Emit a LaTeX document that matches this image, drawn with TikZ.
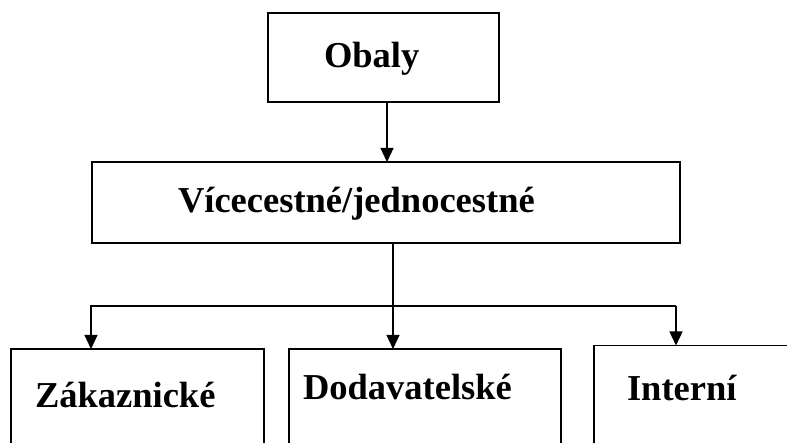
\documentclass[tikz,border=0pt]{standalone}
\usepackage{fontspec}
\setmainfont{Liberation Serif}
\usepackage{tikz}
\usetikzlibrary{
  positioning,
  calc,
  arrows.meta
}
\tikzstyle{box}=[draw, line width=1.8pt, outer sep=0pt, inner ysep=0pt, align=left, font=\bfseries\fontsize{36.5}{44}\selectfont]
\tikzstyle{arrow}=[-{Triangle[width=13pt,length=14pt]}, line width=1.2pt]

\begin{document}
\begin{tikzpicture}[x=1pt, y=1pt]
    % 描画範囲
    \useasboundingbox (0,0) rectangle (787,443);
    \clip (0,0) rectangle (787,443);

    % 最上段の箱
    \node[box, anchor=base west, inner xsep=56pt, text width=119pt, text height=55pt, text depth=34pt] (obaly) at (268,375) {Obaly};
    % 中段の箱
    \node[box, anchor=base west, inner xsep=86pt, text width=416pt, text height=51pt, text depth=30pt] (vice) at (92,230) {Vícecestné/jednocestné};

    % 下段の箱
    \node[box, anchor=base west, inner xsep=24pt, text width=205pt, text height=59pt, text depth=55pt] (zak) at (11,35) {Zákaznické};
    \node[box, anchor=base west, inner xsep=14pt, text width=244pt, text height=51pt, text depth=63pt] (dod) at (289,43) {Dodavatelské};
    \node[box, anchor=base west, inner xsep=33pt, text width=150pt, text height=55pt, text depth=62pt] (intr) at (594,42.5) {Interní};

    % 分岐線の端点
    \coordinate (bl) at (91,137);
    \coordinate (br) at (676,137);

    % 矢印の描画
    \draw[arrow] ([xshift=3.5pt]obaly.south) -- ([xshift=3.5pt]obaly.south |- vice.north);
    \draw[arrow] ([xshift=7pt]vice.south) -- ([xshift=7pt]vice.south |- dod.north);
    \draw[arrow] (br) -- (bl) -- (bl |- zak.north);
    \draw[arrow] (br) -- (br |- intr.north);
\end{tikzpicture}
\end{document}
